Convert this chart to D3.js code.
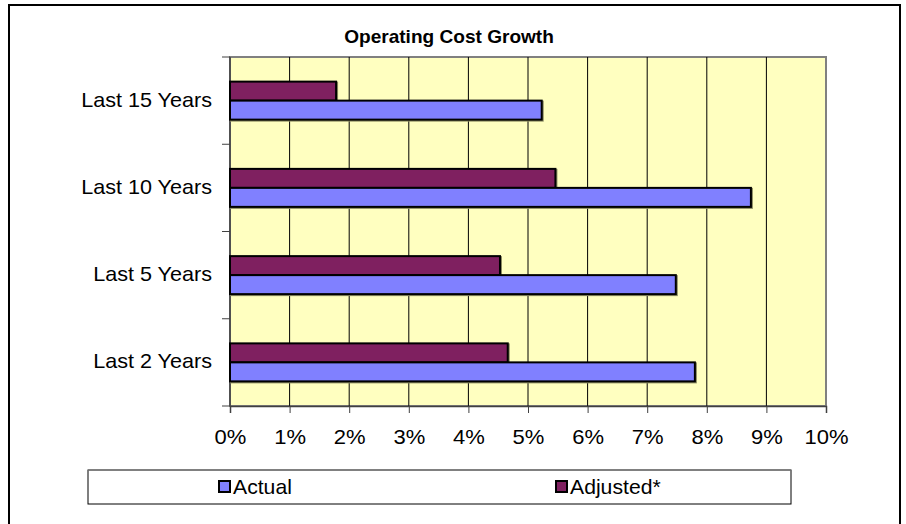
<!DOCTYPE html>
<html>
<head>
<meta charset="utf-8">
<script src="https://cdn.jsdelivr.net/npm/d3@7"></script>
<style>
  body { margin: 0; background: #fff; }
  svg { display: block; font-family: "Liberation Sans", Arial, sans-serif; }
</style>
</head>
<body>
<script>
// chart data
var categories = ["Last 15 Years", "Last 10 Years", "Last 5 Years", "Last 2 Years"];
var actual = [5.23, 8.74, 7.48, 7.80];
var adjusted = [1.78, 5.46, 4.53, 4.66];
var seriesNames = ["Adjusted*", "Actual"];
var xTicks = [0, 1, 2, 3, 4, 5, 6, 7, 8, 9, 10];

var W = 906, H = 524;
var plot = {left: 230, top: 57, right: 826, bottom: 406};
var colors = {"Actual": "#8080ff", "Adjusted*": "#7f2060"};
var stretch = 1.08; // the source text is a bit wider than Liberation Sans

var svg = d3.select("body").append("svg")
  .attr("width", W)
  .attr("height", H);

// outer chart border
svg.append("rect")
  .attr("x", 9).attr("y", 5)
  .attr("width", 891).attr("height", 540)
  .attr("fill", "#fff")
  .attr("stroke", "#000")
  .attr("stroke-width", 2);

svg.append("text")
  .attr("transform", "translate(449,43) scale(1.06,1)")
  .attr("text-anchor", "middle")
  .style("font-size", "18px")
  .style("font-weight", "bold")
  .text("Operating Cost Growth");

var x = d3.scaleLinear()
  .domain([0, 10])
  .range([plot.left, plot.right]);

var y = d3.scaleBand()
  .domain(categories)
  .range([plot.top, plot.bottom])
  .paddingInner(0.5645)
  .paddingOuter(0.5645 / 2);

var ySub = d3.scaleBand()
  .domain(seriesNames)
  .range([0, y.bandwidth()]);

// plot background
svg.append("rect")
  .attr("x", plot.left).attr("y", plot.top)
  .attr("width", plot.right - plot.left)
  .attr("height", plot.bottom - plot.top)
  .attr("fill", "#ffffc0")
  .attr("stroke", "#808080")
  .attr("stroke-width", 2);

// gridlines
svg.append("g")
  .selectAll("line")
  .data(xTicks.slice(1, -1))
  .enter()
  .append("line")
  .attr("x1", function (d) { return x(d); })
  .attr("x2", function (d) { return x(d); })
  .attr("y1", plot.top)
  .attr("y2", plot.bottom)
  .attr("stroke", "#000")
  .attr("stroke-width", 1);

// x axis
var xAxis = svg.append("g")
  .attr("transform", "translate(0," + plot.bottom + ")")
  .call(d3.axisBottom(x)
    .tickValues(xTicks)
    .tickSize(7)
    .tickPadding(17)
    .tickFormat(function (d) { return d + "%"; }));
xAxis.select(".domain").attr("stroke", "#404040").attr("stroke-width", 1.5);
xAxis.selectAll(".tick line").attr("stroke", "#404040");
xAxis.selectAll("text")
  .attr("fill", "#000")
  .attr("transform", "scale(1.1,1)")
  .style("font-size", "20px")
  .style("font-family", "Liberation Sans, Arial, sans-serif");

// y axis: ticks at category boundaries
var yBounds = d3.range(categories.length + 1).map(function (i) {
  return plot.top + i * y.step();
});
svg.append("line")
  .attr("x1", plot.left).attr("x2", plot.left)
  .attr("y1", plot.top).attr("y2", plot.bottom)
  .attr("stroke", "#404040")
  .attr("stroke-width", 1.5);
svg.append("g")
  .selectAll("line")
  .data(yBounds)
  .enter()
  .append("line")
  .attr("x1", plot.left - 8)
  .attr("x2", plot.left)
  .attr("y1", function (d) { return d; })
  .attr("y2", function (d) { return d; })
  .attr("stroke", "#404040");
svg.append("g")
  .selectAll("text")
  .data(categories)
  .enter()
  .append("text")
  .attr("transform", function (d) {
    return "translate(212," + (y(d) + y.bandwidth() / 2 + 6) + ") scale(" + stretch + ",1)";
  })
  .attr("text-anchor", "end")
  .style("font-size", "20px")
  .text(function (d) { return d; });

// bars
var rows = categories.map(function (c, i) {
  return {category: c, values: [
    {name: "Adjusted*", value: adjusted[i]},
    {name: "Actual", value: actual[i]}
  ]};
});

var groups = svg.append("g")
  .selectAll("g")
  .data(rows)
  .enter()
  .append("g")
  .attr("transform", function (d) { return "translate(0," + y(d.category) + ")"; });

// slight shadow
groups.selectAll("rect.shadow")
  .data(function (d) { return d.values; })
  .enter()
  .append("rect")
  .attr("class", "shadow")
  .attr("x", x(0) + 1)
  .attr("y", function (d) { return ySub(d.name) + 1; })
  .attr("width", function (d) { return x(d.value) - x(0); })
  .attr("height", ySub.bandwidth())
  .attr("fill", "none")
  .attr("stroke", "#8a8a60")
  .attr("stroke-width", 2);

groups.selectAll("rect.bar")
  .data(function (d) { return d.values; })
  .enter()
  .append("rect")
  .attr("class", "bar")
  .attr("x", x(0))
  .attr("y", function (d) { return ySub(d.name); })
  .attr("width", function (d) { return x(d.value) - x(0); })
  .attr("height", ySub.bandwidth())
  .attr("fill", function (d) { return colors[d.name]; })
  .attr("stroke", "#000")
  .attr("stroke-width", 2);

// legend
var legend = svg.append("g");
legend.append("rect")
  .attr("x", 88).attr("y", 470)
  .attr("width", 703).attr("height", 34)
  .attr("fill", "#fff")
  .attr("stroke", "#000")
  .attr("stroke-width", 1);
legend.append("line")
  .attr("x1", 88).attr("x2", 791)
  .attr("y1", 470).attr("y2", 470)
  .attr("stroke", "#808080")
  .attr("stroke-width", 1.5);

var legendItems = [
  {name: "Actual", x: 219},
  {name: "Adjusted*", x: 556}
];
legend.selectAll("rect.key")
  .data(legendItems)
  .enter()
  .append("rect")
  .attr("class", "key")
  .attr("x", function (d) { return d.x; })
  .attr("y", 481)
  .attr("width", 11).attr("height", 11)
  .attr("fill", function (d) { return colors[d.name]; })
  .attr("stroke", "#000")
  .attr("stroke-width", 2);
legend.selectAll("text")
  .data(legendItems)
  .enter()
  .append("text")
  .attr("transform", function (d) { return "translate(" + (d.x + 14) + ",494) scale(1.06,1)"; })
  .style("font-size", "20px")
  .text(function (d) { return d.name; });
</script>
</body>
</html>
